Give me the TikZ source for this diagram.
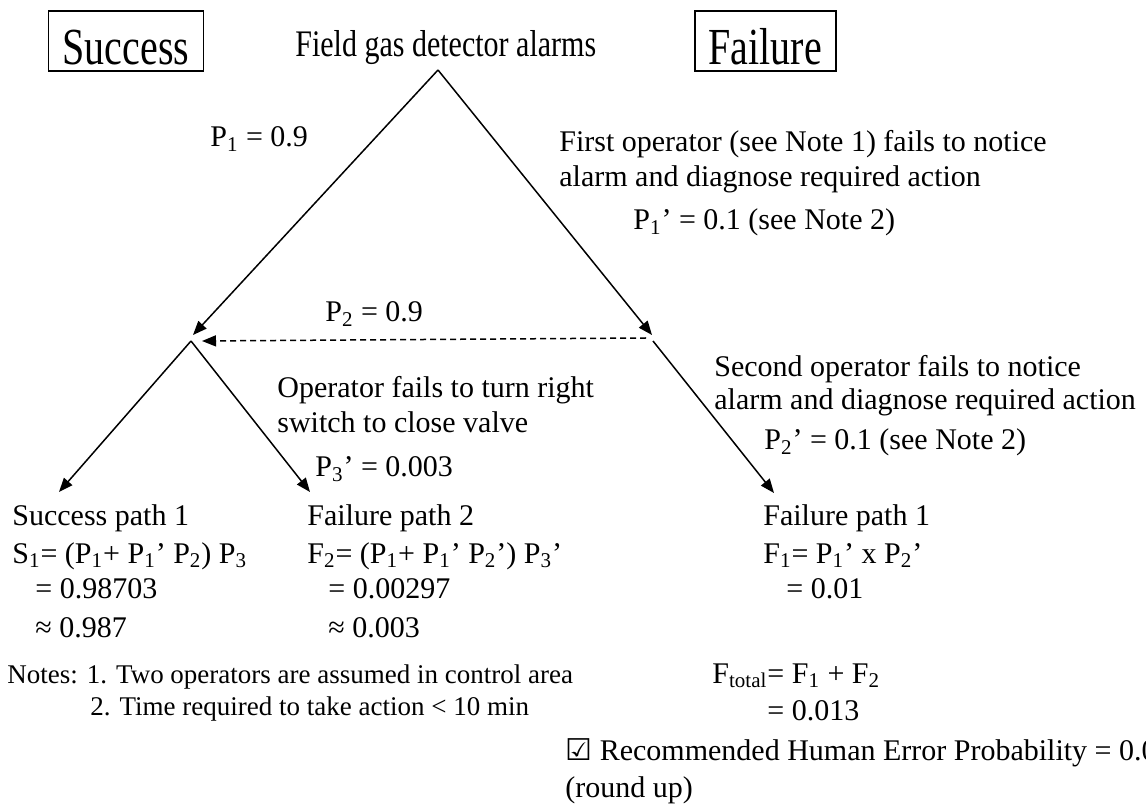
\documentclass[tikz,border=0pt]{standalone}
\usepackage{fontspec}
\setmainfont{Liberation Serif}
\newfontfamily\symbolfont{DejaVu Sans}
\usetikzlibrary{arrows.meta}
\newcommand{\sbs}[1]{\textsubscript{#1}}
\newcommand{\tall}[2]{\scalebox{1}[#1]{#2}}

\begin{document}
\begin{tikzpicture}[x=0.5pt,y=-0.5pt,
    txt/.style={anchor=base west,inner sep=0pt,font=\fontsize{15}{18}\selectfont},
    notetxt/.style={anchor=base west,inner sep=0pt,font=\fontsize{13.5}{16}\selectfont},
    headbox/.style={draw,line width=0.75pt,inner xsep=7pt,inner ysep=0pt,text height=24pt,text depth=0pt,minimum height=30pt,font=\fontsize{20}{24}\selectfont},
    arr/.style={line width=0.75pt,-{Triangle[length=7pt,width=5.5pt]}}]
    \useasboundingbox (0,0) rectangle (1146,807);

    % headers
    \node[headbox] (success) at (126,41) {\tall{1.3}{Success}};
    \node[headbox,anchor=west] (failure) at (694,41) {\tall{1.3}{Failure}};
    \node[txt] (alarm) at (295,57) {\tall{1.25}{Field gas detector alarms}};

    % branch points
    \coordinate (top) at (438,70);
    \coordinate (okend) at (193,335);
    \coordinate (badend) at (652,335);
    \coordinate (okfork) at (191,341);
    \coordinate (badfork) at (653,341);
    \coordinate (dashstart) at (646,338);
    \coordinate (dashend) at (202,341);
    \coordinate (s1end) at (59,492);
    \coordinate (f2end) at (310,492);
    \coordinate (f1end) at (774,493);

    \draw[arr] (top) -- (okend);
    \draw[arr] (top) -- (badend);
    \draw[arr,dash pattern=on 3pt off 2pt] (dashstart) -- (dashend);
    \draw[arr] (okfork) -- (s1end);
    \draw[arr] (okfork) -- (f2end);
    \draw[arr] (badfork) -- (f1end);

    % branch labels
    \node[txt] (p1) at (210,147) {P\sbs{1} = 0.9};
    \node[txt] (first1) at (559,152) {First operator (see Note 1) fails to notice};
    \node[txt] (first2) at (559,187) {alarm and diagnose required action};
    \node[txt] (p1f) at (633,230) {P\sbs{1}’ = 0.1 (see Note 2)};
    \node[txt] (p2) at (325,322) {P\sbs{2} = 0.9};
    \node[txt] (oper1) at (277,398) {Operator fails to turn right};
    \node[txt] (oper2) at (277,433) {switch to close valve};
    \node[txt] (p3f) at (315,477) {P\sbs{3}’ = 0.003};
    \node[txt] (second1) at (714,377) {Second operator fails to notice};
    \node[txt] (second2) at (714,410) {alarm and diagnose required action};
    \node[txt] (p2f) at (764,450) {P\sbs{2}’ = 0.1 (see Note 2)};

    % end states
    \node[txt] (s1a) at (12,525) {Success path 1};
    \node[txt] (s1b) at (12,563) {S\sbs{1}= (P\sbs{1}+ P\sbs{1}’ P\sbs{2}) P\sbs{3}};
    \node[txt] (s1c) at (35,598) {= 0.98703};
    \node[txt] (s1d) at (35,637) {≈ 0.987};
    \node[txt] (f2a) at (307,525) {Failure path 2};
    \node[txt] (f2b) at (307,563) {F\sbs{2}= (P\sbs{1}+ P\sbs{1}’ P\sbs{2}’) P\sbs{3}’};
    \node[txt] (f2c) at (328,598) {= 0.00297};
    \node[txt] (f2d) at (328,637) {≈ 0.003};
    \node[txt] (f1a) at (763,525) {Failure path 1};
    \node[txt] (f1b) at (763,563) {F\sbs{1}= P\sbs{1}’ x P\sbs{2}’};
    \node[txt] (f1c) at (786,598) {= 0.01};

    % totals and notes
    \node[notetxt] (note1) at (7,683) {Notes: 1. Two operators are assumed in control area};
    \node[notetxt] (note2) at (90,715) {2. Time required to take action < 10 min};
    \node[txt] (ftot1) at (712,683) {F\sbs{total}= F\sbs{1} + F\sbs{2}};
    \node[txt] (ftot2) at (767,720) {= 0.013};
    \node[txt] (hep1) at (565,760) {{\symbolfont ☑} Recommended Human Error Probability = 0.013};
    \node[txt] (hep2) at (565,797) {(round up)};
\end{tikzpicture}
\end{document}
